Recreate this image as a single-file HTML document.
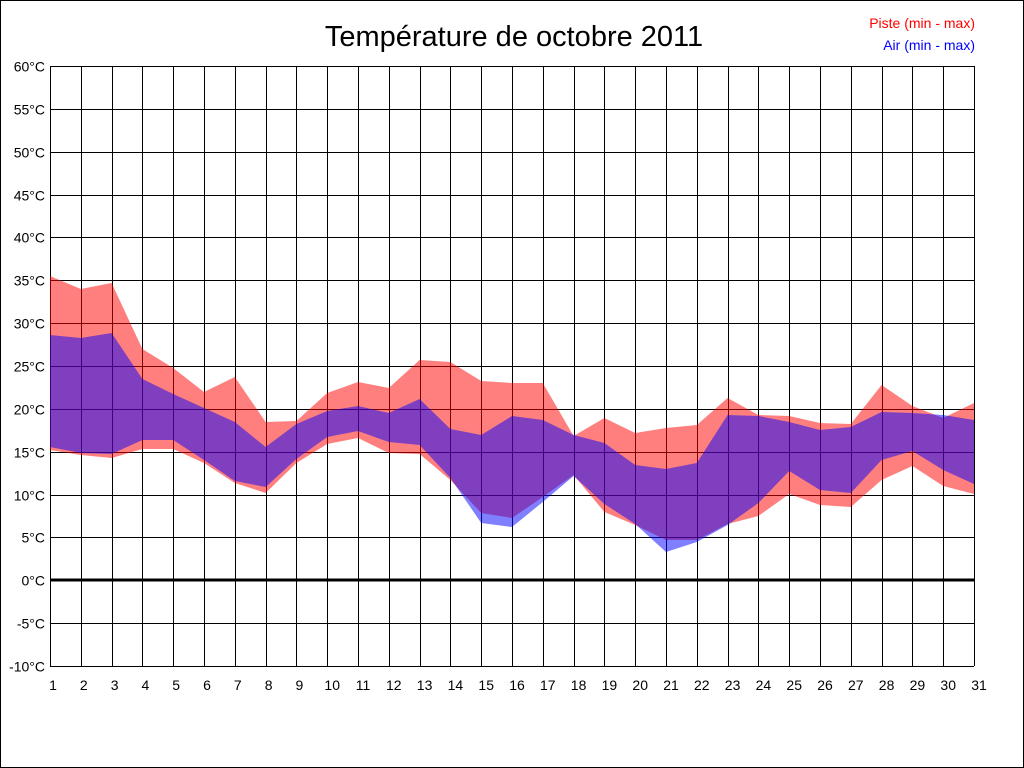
<!DOCTYPE html>
<html><head><meta charset="utf-8"><style>
html,body{margin:0;padding:0;background:#fff}
svg{display:block}
text{font-family:"Liberation Sans",sans-serif}
</style></head><body>
<svg id="s" width="1024" height="768" xmlns="http://www.w3.org/2000/svg">
<rect x="0.5" y="0.5" width="1023" height="767" fill="#fff" stroke="#000"/>
<text x="514" y="46" font-size="29" text-anchor="middle">Température de octobre 2011</text>
<text x="975" y="28" font-size="14" fill="#ff0000" text-anchor="end">Piste (min - max)</text>
<text x="975" y="50" font-size="14" fill="#0000ff" text-anchor="end">Air (min - max)</text>
<g id="grid"></g>
<g id="fill"></g>
<g id="lab" font-size="14"></g>
</svg>
<script>
var X=function(d){return 50+30.8*(d-1)};
var pmax=[276,289,283,349,368,392,377,422,421,393,382,388,360,362,381,383,383,436,418,433,428,425,398,415,416,423,424,385,406,418,403];
var pmin=[450,455,458,449,449,463,483,493,463,444,438,453,454,480,513,518,497,475,512,525,540,540,524,516,494,505,507,480,466,486,494];
var amax=[335,338,333,379,394,408,422,447,424,411,406,413,399,429,435,416,420,435,443,465,469,463,415,416,422,430,427,412,413,415,420];
var amin=[447,453,454,440,440,460,481,487,459,437,431,442,445,478,523,527,502,476,504,524,552,542,525,503,471,490,493,460,451,470,484];
function poly(top,bot,col){var p=[];for(var i=0;i<31;i++)p.push(X(i+1).toFixed(1)+","+top[i]);for(var i=30;i>=0;i--)p.push(X(i+1).toFixed(1)+","+bot[i]);return '<polygon points="'+p.join(" ")+'" fill="'+col+'" fill-opacity="0.5"/>';}
var g='';
for(var d=1;d<=31;d++){var x=Math.round(X(d))+0.5;g+='<line x1="'+x+'" y1="66" x2="'+x+'" y2="666" stroke="#000"/>';}
var l='';
for(var t=60;t>=-10;t-=5){var y=Math.round(66+(60-t)*600/70)+0.5;
 if(t==0)g+='<line x1="50" y1="580" x2="974" y2="580" stroke="#000" stroke-width="3"/>';
 else g+='<line x1="50" y1="'+y+'" x2="974" y2="'+y+'" stroke="#000"/>';
 l+='<text x="45" y="'+(y+5)+'" text-anchor="end">'+t+'°C</text>';}
for(var d=1;d<=31;d++){l+='<text x="'+(X(d)+(d<10?3:5))+'" y="690" text-anchor="middle">'+d+'</text>';}
document.getElementById('grid').innerHTML=g;
document.getElementById('fill').innerHTML=poly(pmax,pmin,'#ff0000')+poly(amax,amin,'#0000ff');
document.getElementById('lab').innerHTML=l;
</script>
</body></html>
